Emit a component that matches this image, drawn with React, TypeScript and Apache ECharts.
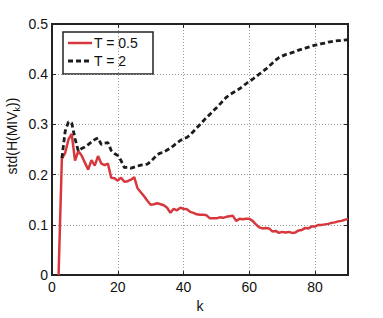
import React, { useEffect, useRef } from "react";
import * as echarts from "echarts";

// k runs from 2 to 90
const kStart = 2;
const kEnd = 90;
const xTicks = [0, 20, 40, 60, 80];
const yTicks = [0, 0.1, 0.2, 0.3, 0.4, 0.5];
const seriesNames = ["T = 0.5", "T = 2"];

const stdT05 = [
  0, 0.232, 0.243, 0.27, 0.281, 0.228, 0.247, 0.238, 0.224, 0.21,
  0.229, 0.218, 0.237, 0.222, 0.219, 0.222, 0.194, 0.193, 0.188, 0.194,
  0.186, 0.187, 0.19, 0.195, 0.173, 0.165, 0.157, 0.148, 0.14, 0.141,
  0.143, 0.141, 0.139, 0.134, 0.124, 0.132, 0.129, 0.134, 0.132, 0.131,
  0.126, 0.124, 0.121, 0.12, 0.12, 0.119, 0.113, 0.113, 0.113, 0.115,
  0.114, 0.116, 0.117, 0.118, 0.108, 0.112, 0.111, 0.112, 0.112, 0.108,
  0.101, 0.095, 0.093, 0.094, 0.093, 0.087, 0.088, 0.084, 0.086, 0.085,
  0.086, 0.084, 0.085, 0.089, 0.09, 0.094, 0.093, 0.097, 0.097, 0.1,
  0.1, 0.101, 0.102, 0.104, 0.105, 0.107, 0.108, 0.11, 0.112,
];

const stdT2 = [
  null, 0.233, 0.286, 0.305, 0.303, 0.272, 0.247, 0.252, 0.255, 0.26,
  0.265, 0.27, 0.273, 0.26, 0.263, 0.264, 0.248, 0.242, 0.238, 0.228,
  0.214, 0.215, 0.213, 0.215, 0.217, 0.219, 0.22, 0.221, 0.226, 0.233,
  0.24, 0.243, 0.245, 0.249, 0.253, 0.258, 0.263, 0.268, 0.272, 0.274,
  0.279, 0.286, 0.293, 0.3, 0.307, 0.314, 0.32, 0.327, 0.333, 0.34,
  0.347, 0.354, 0.359, 0.363, 0.367, 0.371, 0.376, 0.381, 0.386, 0.39,
  0.395, 0.4, 0.405, 0.41, 0.416, 0.422, 0.428, 0.433, 0.436, 0.439,
  0.441, 0.443, 0.445, 0.448, 0.45, 0.452, 0.454, 0.456, 0.458, 0.459,
  0.461, 0.462, 0.464, 0.465, 0.466, 0.467, 0.467, 0.468, 0.469,
];

const FONT = "'Liberation Sans', Arial, Helvetica, sans-serif";
const RED = "#d6383e";
const BLACK = "#1c1c1c";

function pairs(values: (number | null)[]) {
  return values.map((v, i) => [kStart + i, v]);
}

function frameLine() {
  return { show: true, onZero: false, lineStyle: { color: "#222", width: 2 } };
}
function tickIn() {
  return { show: true, inside: true, length: 4, lineStyle: { color: "#222", width: 1 } };
}
function split() {
  return { show: true, lineStyle: { color: "#9a9a9a", width: 1, type: [1, 2] } };
}

export default function App() {
  const ref = useRef<HTMLDivElement>(null);

  useEffect(() => {
    if (!ref.current) return;
    const chart = echarts.init(ref.current, undefined, { renderer: "svg" });
    chart.setOption({
      animation: false,
      backgroundColor: "#ffffff",
      grid: {
        left: 52,
        right: 35,
        top: 24,
        bottom: 39,
        containLabel: false,
        show: true,
        borderColor: "#222",
        borderWidth: 2,
        backgroundColor: "transparent",
      },
      xAxis: [
        {
          type: "value",
          min: xTicks[0],
          max: kEnd,
          interval: xTicks[1] - xTicks[0],
          position: "bottom",
          axisLine: frameLine(),
          axisTick: tickIn(),
          splitLine: split(),
          axisLabel: {
            show: true,
            fontSize: 14,
            color: "#111",
            fontFamily: FONT,
            margin: 5,
            showMaxLabel: false,
          },
          name: "k",
          nameLocation: "middle",
          nameGap: 18,
          nameTextStyle: { fontSize: 14, color: "#111", fontFamily: FONT },
        },
        {
          type: "value",
          min: xTicks[0],
          max: kEnd,
          interval: xTicks[1] - xTicks[0],
          position: "top",
          axisLine: frameLine(),
          axisTick: tickIn(),
          splitLine: { show: false },
          axisLabel: { show: false },
        },
      ],
      yAxis: [
        {
          type: "value",
          min: yTicks[0],
          max: yTicks[yTicks.length - 1],
          interval: 0.1,
          position: "left",
          axisLine: frameLine(),
          axisTick: tickIn(),
          splitLine: split(),
          axisLabel: {
            show: true,
            fontSize: 14,
            color: "#111",
            fontFamily: FONT,
            margin: 4,
          },
        },
        {
          type: "value",
          min: yTicks[0],
          max: yTicks[yTicks.length - 1],
          interval: 0.1,
          position: "right",
          axisLine: frameLine(),
          axisTick: tickIn(),
          splitLine: { show: false },
          axisLabel: { show: false },
        },
      ],
      graphic: [
        {
          type: "text",
          x: 12,
          y: 136,
          rotation: Math.PI / 2,
          style: {
            text: "{a|std(H(MIV}{s|k}{a|))}",
            align: "center",
            verticalAlign: "middle",
            fill: "#111",
            rich: {
              a: { fontSize: 14, fontFamily: FONT, fill: "#111" },
              s: { fontSize: 9, fontFamily: FONT, fill: "#111", verticalAlign: "bottom", padding: [0, 0, -2, 0] },
            },
          },
        },
        {
          type: "group",
          z: 100,
          children: [
            {
              type: "rect",
              shape: { x: 63, y: 32, width: 90, height: 42 },
              style: { fill: "#ffffff", stroke: "#222", lineWidth: 1.5 },
            },
            {
              type: "line",
              shape: { x1: 68, y1: 43, x2: 92, y2: 43 },
              style: { stroke: RED, lineWidth: 2.5 },
            },
            {
              type: "line",
              shape: { x1: 68, y1: 61, x2: 92, y2: 61 },
              style: { stroke: BLACK, lineWidth: 2.8, lineDash: [5, 3] },
            },
            {
              type: "text",
              x: 94,
              y: 43,
              style: {
                text: seriesNames[0],
                fontSize: 14,
                fontFamily: FONT,
                fill: "#111",
                verticalAlign: "middle",
              },
            },
            {
              type: "text",
              x: 94,
              y: 61,
              style: {
                text: seriesNames[1],
                fontSize: 14,
                fontFamily: FONT,
                fill: "#111",
                verticalAlign: "middle",
              },
            },
          ],
        },
      ],
      series: [
        {
          name: seriesNames[0],
          type: "line",
          xAxisIndex: 0,
          yAxisIndex: 0,
          data: pairs(stdT05),
          symbol: "none",
          lineStyle: { color: RED, width: 2.5 },
          itemStyle: { color: RED },
          z: 3,
        },
        {
          name: seriesNames[1],
          type: "line",
          xAxisIndex: 0,
          yAxisIndex: 0,
          data: pairs(stdT2),
          symbol: "none",
          connectNulls: false,
          lineStyle: { color: BLACK, width: 2.8, type: [5, 3] },
          itemStyle: { color: BLACK },
          z: 4,
        },
      ],
    });
    return () => chart.dispose();
  }, []);

  return (
    <div
      ref={ref}
      style={{ position: "fixed", left: 0, top: 0, width: 383, height: 318, background: "#fff" }}
    />
  );
}
